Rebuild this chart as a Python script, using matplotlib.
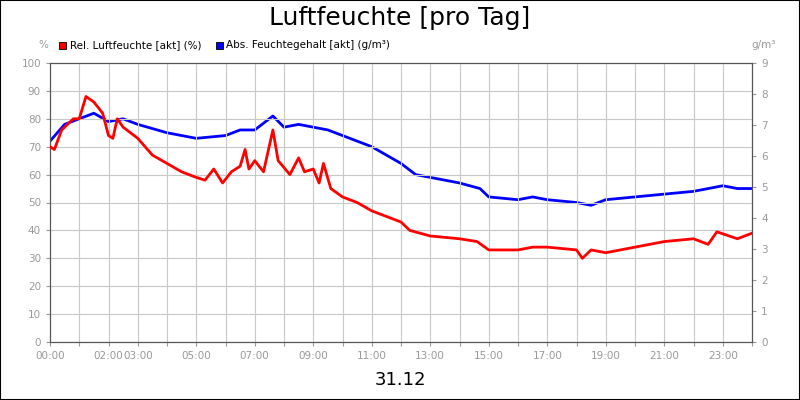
import matplotlib.pyplot as plt
from matplotlib.patches import Rectangle

# red: relative humidity (%), hours
rel_h = [0, 0.15, 0.4, 0.8, 1.0, 1.23, 1.5, 1.8, 2.0, 2.15, 2.3, 2.5, 3, 3.5, 4, 4.5, 5, 5.3, 5.6, 5.9,
         6.2, 6.5, 6.67, 6.8, 7.0, 7.3, 7.62, 7.8, 8.2, 8.5, 8.7, 9.0, 9.2, 9.35, 9.6, 10, 10.5, 11, 11.5,
         12, 12.3, 13, 14, 14.6, 15, 16, 16.5, 17, 18, 18.2, 18.5, 19, 20, 21, 22, 22.5, 22.8, 23.5, 24]
rel_v = [70, 69, 76, 80, 80, 88, 86, 82, 74, 73, 80, 77, 73, 67, 64, 61, 59, 58, 62, 57,
         61, 63, 69, 62, 65, 61, 76, 65, 60, 66, 61, 62, 57, 64, 55, 52, 50, 47, 45,
         43, 40, 38, 37, 36, 33, 33, 34, 34, 33, 30, 33, 32, 34, 36, 37, 35, 39.5, 37, 39]

# blue: absolute humidity (g/m³)
abs_h = [0, 0.5, 1, 1.5, 2, 2.5, 3, 4, 5, 6, 6.5, 7, 7.62, 8, 8.5, 9, 9.5, 10, 11, 12, 12.5, 13,
         14, 14.7, 15, 16, 16.5, 17, 18, 18.5, 19, 20, 21, 22, 23, 23.5, 24]
abs_v = [6.48, 7.02, 7.2, 7.38, 7.11, 7.2, 7.02, 6.75, 6.57, 6.66, 6.84, 6.84, 7.29, 6.93, 7.02, 6.93,
         6.84, 6.66, 6.3, 5.76, 5.4, 5.31, 5.13, 4.95, 4.68, 4.59, 4.68, 4.59, 4.5, 4.41, 4.59, 4.68,
         4.77, 4.86, 5.04, 4.95, 4.95]

xlabels = {0: '00:00', 2: '02:00', 3: '03:00', 5: '05:00', 7: '07:00', 9: '09:00', 11: '11:00',
           13: '13:00', 15: '15:00', 17: '17:00', 19: '19:00', 21: '21:00', 23: '23:00'}

grey = '#999999'
fig = plt.figure(figsize=(8, 4), dpi=100)
fig.patches.append(Rectangle((0, 0), 1, 1, transform=fig.transFigure, fill=False,
                             edgecolor='black', linewidth=1.5))
ax = fig.add_axes([0.0625, 0.145, 0.8775, 0.6975])
ax2 = ax.twinx()

ax.plot(rel_h, rel_v, color='#ff0000', lw=2, zorder=3)
ax2.plot([h * 1 for h in abs_h], abs_v, color='#0000ff', lw=2)
ax.set_zorder(ax2.get_zorder() + 1)
ax.patch.set_visible(False)

ax.set_xlim(0, 24)
ax.set_ylim(0, 100)
ax2.set_ylim(0, 9)
ax.set_xticks(range(25))
ax.set_xticklabels([xlabels.get(h, '') for h in range(25)])
ax.set_yticks(range(0, 101, 10))
ax2.set_yticks(range(0, 10))
ax.grid(color='#c8c8c8', lw=0.8)
for a in (ax, ax2):
    a.tick_params(labelsize=7.5, colors=grey, length=3)
    for s in a.spines.values():
        s.set_color('#555555')

fig.text(0.5, 0.955, 'Luftfeuchte [pro Tag]', ha='center', va='center', fontsize=18)
fig.text(0.5, 0.05, '31.12', ha='center', va='center', fontsize=13)
fig.text(0.054, 0.88, '%', ha='center', fontsize=7.5, color=grey)
fig.text(0.955, 0.88, 'g/m³', ha='center', fontsize=7.5, color=grey)
fig.patches.append(Rectangle((0.074, 0.878), 0.009, 0.018, transform=fig.transFigure,
                             facecolor='#ff0000', edgecolor='black', lw=0.6))
fig.text(0.087, 0.887, 'Rel. Luftfeuchte [akt] (%)', fontsize=7.5, va='center')
fig.patches.append(Rectangle((0.27, 0.878), 0.009, 0.018, transform=fig.transFigure,
                             facecolor='#0000ff', edgecolor='black', lw=0.6))
fig.text(0.283, 0.887, 'Abs. Feuchtegehalt [akt] (g/m³)', fontsize=7.5, va='center')

fig.savefig('out.png', dpi=100)
